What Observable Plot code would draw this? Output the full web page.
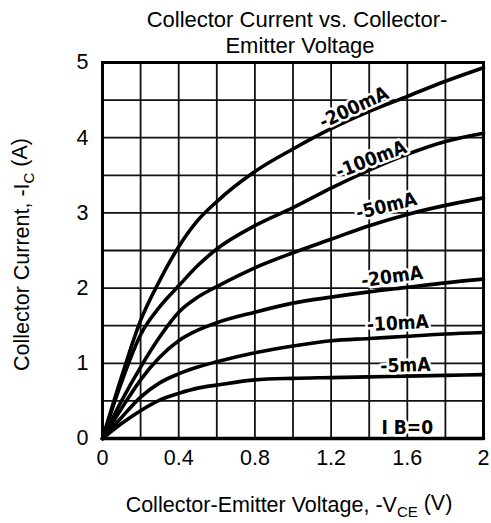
<!DOCTYPE html>
<html>
<head>
<meta charset="utf-8">
<script src="https://cdn.jsdelivr.net/npm/d3@7"></script>
<script src="https://cdn.jsdelivr.net/npm/@observablehq/plot@0.6"></script>
<style>
  html, body { margin: 0; padding: 0; background: white; }
</style>
</head>
<body>
<div id="chart"></div>
<script>
// Collector-emitter voltage samples (V)
const vce = [0, 0.1, 0.2, 0.3, 0.4, 0.5, 0.6, 0.8, 1.0, 1.2, 1.4, 1.6, 1.8, 2.0];
// Collector current (A) for each base current
const ic200 = [0, 0.82, 1.57, 2.10, 2.55, 2.90, 3.15, 3.55, 3.85, 4.12, 4.35, 4.55, 4.75, 4.93];
const ic100 = [0, 0.75, 1.38, 1.75, 2.03, 2.30, 2.52, 2.83, 3.07, 3.33, 3.57, 3.78, 3.95, 4.06];
const ic50  = [0, 0.50, 0.95, 1.35, 1.68, 1.88, 2.02, 2.27, 2.47, 2.65, 2.83, 2.98, 3.10, 3.20];
const ic20  = [0, 0.40, 0.78, 1.08, 1.30, 1.44, 1.54, 1.68, 1.80, 1.88, 1.95, 2.01, 2.07, 2.12];
const ic10  = [0, 0.28, 0.55, 0.74, 0.86, 0.95, 1.02, 1.14, 1.23, 1.30, 1.33, 1.36, 1.39, 1.41];
const ic5   = [0, 0.20, 0.37, 0.51, 0.60, 0.67, 0.71, 0.78, 0.80, 0.81, 0.82, 0.83, 0.84, 0.85];
const ic0   = [0, 0, 0, 0, 0, 0, 0, 0, 0, 0, 0, 0, 0, 0];

const seriesNames = ["-200mA", "-100mA", "-50mA", "-20mA", "-10mA", "-5mA", "I B=0"];
const seriesValues = [ic200, ic100, ic50, ic20, ic10, ic5, ic0];

// Curve labels: position (V, A) and rotation (deg)
const labelText = ["-200mA", "-100mA", "-50mA", "-20mA", "-10mA", "-5mA", "I B=0"];
const labelX = [1.32, 1.41, 1.49, 1.52, 1.55, 1.59, 1.60];
const labelY = [4.40, 3.71, 3.09, 2.15, 1.53, 0.97, 0.14];
const labelRot = [-25, -21, -14, -8, -3, -2, 0];

const xTicks = [0, 0.4, 0.8, 1.2, 1.6, 2];
const yTicks = [0, 1, 2, 3, 4, 5];
const xGrid = [0.2, 0.4, 0.6, 0.8, 1.0, 1.2, 1.4, 1.6, 1.8];
const yGrid = [0.5, 1, 1.5, 2, 2.5, 3, 3.5, 4, 4.5];

const curves = [];
seriesNames.forEach((name, i) => {
  vce.forEach((v, j) => curves.push({series: name, v, i: seriesValues[i][j]}));
});
const labels = labelText.map((t, k) => ({t, x: labelX[k], y: labelY[k], r: labelRot[k]}));

const chart = Plot.plot({
  width: 491,
  height: 523,
  marginLeft: 102,
  marginRight: 8,
  marginTop: 62,
  marginBottom: 85,
  style: {fontFamily: "'Liberation Sans', Arial, sans-serif", fontSize: "22px", background: "white", color: "black"},
  x: {domain: [0, 2]},
  y: {domain: [0, 5]},
  marks: [
    Plot.ruleX(xGrid, {stroke: "#111", strokeWidth: 1.8}),
    Plot.ruleY(yGrid, {stroke: "#111", strokeWidth: 1.8}),
    Plot.line(curves, {x: "v", y: "i", z: "series", curve: "monotone-x", stroke: "black", strokeWidth: 3.6}),
    Plot.text(labels, {
      x: "x", y: "y", text: "t", rotate: "r",
      fontFamily: "'DejaVu Sans Condensed', 'DejaVu Sans', sans-serif",
      fontWeight: "bold", fontSize: 19,
      fill: "black", stroke: "white", strokeWidth: 5
    }),
    Plot.frame({stroke: "black", strokeWidth: 3}),
    Plot.axisX(xTicks, {tickSize: 0, tickPadding: 11, label: null, tickFormat: d => String(d), fontSize: 21.5}),
    Plot.axisY(yTicks, {tickSize: 0, tickPadding: 14, label: null, tickFormat: d => String(d), fontSize: 21.5}),
    Plot.text(["Collector Current vs. Collector-"], {frameAnchor: "top", dy: -43, dx: 4, fontSize: 22, lineAnchor: "middle"}),
    Plot.text(["Emitter Voltage"], {frameAnchor: "top", dy: -17, dx: 7, fontSize: 22, lineAnchor: "middle"}),
    Plot.text(["XLABEL"], {frameAnchor: "bottom", dy: 67, dx: -4, fontSize: 21.5, lineAnchor: "middle"}),
    Plot.text(["YLABEL"], {frameAnchor: "left", dx: -80, dy: 4, rotate: -90, fontSize: 21.5, textAnchor: "middle", lineAnchor: "middle"})
  ]
});

document.getElementById("chart").appendChild(chart);

// Add subscripts to axis labels
function subscriptLabel(placeholder, before, sub, after) {
  d3.select(chart).selectAll("text").filter(function() { return this.textContent === placeholder; })
    .each(function() {
      const t = d3.select(this);
      t.text(null);
      t.append("tspan").text(before);
      t.append("tspan").attr("font-size", 15).attr("dy", "0.3em").text(sub);
      t.append("tspan").attr("dy", "-0.3em").text(after);
    });
}
subscriptLabel("XLABEL", "Collector-Emitter Voltage, -V", "CE", " (V)");
subscriptLabel("YLABEL", "Collector Current, -I", "C", " (A)");
</script>
</body>
</html>
